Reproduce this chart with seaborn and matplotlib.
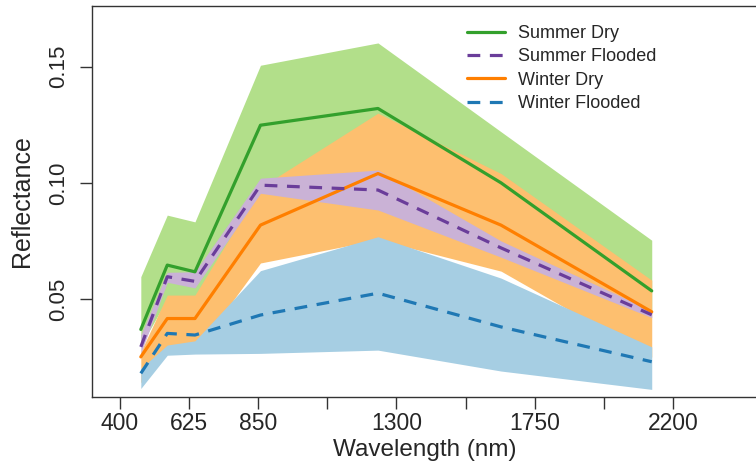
import matplotlib
matplotlib.use("Agg")
import matplotlib.pyplot as plt
from matplotlib.lines import Line2D
import pandas as pd
import seaborn as sns

# MODIS band centres (nm)
wavelength = [469, 555, 645, 858, 1240, 1640, 2130]

summer_dry = [0.0369, 0.0646, 0.0617, 0.1248, 0.1320, 0.1000, 0.0535]
summer_dry_hi = [0.0596, 0.0861, 0.0832, 0.1506, 0.1602, 0.1220, 0.0753]
summer_dry_lo = [0.0300, 0.0500, 0.0500, 0.0900, 0.1000, 0.0800, 0.0450]

summer_fl = [0.0294, 0.0596, 0.0576, 0.0990, 0.0969, 0.0720, 0.0432]
summer_fl_hi = [0.0345, 0.0615, 0.0617, 0.1020, 0.1055, 0.0750, 0.0450]
summer_fl_lo = [0.0267, 0.0572, 0.0548, 0.0955, 0.0883, 0.0680, 0.0420]

winter_dry = [0.0251, 0.0416, 0.0416, 0.0818, 0.1040, 0.0818, 0.0445]
winter_dry_hi = [0.0273, 0.0517, 0.0517, 0.0980, 0.1300, 0.1040, 0.0581]
winter_dry_lo = [0.0140, 0.0280, 0.0270, 0.0655, 0.0755, 0.0620, 0.0250]

winter_fl = [0.0180, 0.0352, 0.0345, 0.0431, 0.0525, 0.0380, 0.0230]
winter_fl_hi = [0.0201, 0.0302, 0.0320, 0.0622, 0.0768, 0.0590, 0.0294]
winter_fl_lo = [0.0115, 0.0258, 0.0263, 0.0266, 0.0280, 0.0190, 0.0111]

labels = ["Summer Dry", "Summer Flooded", "Winter Dry", "Winter Flooded"]
line_cols = ["#33a02c", "#6a3d9a", "#ff7f00", "#1f78b4"]
fill_cols = ["#b2df8a", "#cab2d6", "#fdbf6f", "#a6cee3"]

xticks = [400, 625, 850, 1075, 1300, 1525, 1750, 1975, 2200]
xticklabels = ["400", "625", "850", "", "1300", "", "1750", "", "2200"]
yticks = [0.05, 0.10, 0.15]

sns.set_style("ticks")
plt.rcParams["font.family"] = ["Liberation Sans", "DejaVu Sans"]

df = pd.DataFrame({
    "wavelength": wavelength,
    "Summer Dry": summer_dry,
    "Summer Flooded": summer_fl,
    "Winter Dry": winter_dry,
    "Winter Flooded": winter_fl,
})

fig = plt.figure(figsize=(7.56, 4.62), dpi=100)
ax = fig.add_axes([92 / 756, 65 / 462, (780 - 92) / 756, (397 - 6) / 462])

# bands, drawn in this order so the overlaps look right
ax.fill_between(wavelength, summer_dry_lo, summer_dry_hi, color=fill_cols[0], lw=0)
ax.fill_between(wavelength, winter_dry_lo, winter_dry_hi, color=fill_cols[2], lw=0)
ax.fill_between(wavelength, summer_fl_lo, summer_fl_hi, color=fill_cols[1], lw=0)
ax.fill_between(wavelength, winter_fl_lo, winter_fl_hi, color=fill_cols[3], lw=0)

dashed = {"Summer Flooded", "Winter Flooded"}
for name in ["Summer Dry", "Winter Dry", "Summer Flooded", "Winter Flooded"]:
    col = line_cols[labels.index(name)]
    sns.lineplot(data=df, x="wavelength", y=name, color=col, lw=2.3, ax=ax, legend=False)
    if name in dashed:
        ax.lines[-1].set_dashes([4, 3])

ax.set_xlim(310.3, 2547)
ax.set_ylim(0.00783, 0.1761)
ax.set_xticks(xticks)
ax.set_xticklabels(xticklabels, fontsize=16.5)
ax.set_yticks(yticks)
ax.set_yticklabels(["0.05", "0.10", "0.15"], fontsize=16, rotation=90, va="center")
ax.tick_params(axis="both", direction="out", length=8.6, width=1, color="#333333")
ax.tick_params(axis="x", pad=2.5)
ax.tick_params(axis="y", pad=8)
for sp in ax.spines.values():
    sp.set_color("#333333")
    sp.set_linewidth(1)

ax.set_xlabel("Wavelength (nm)", fontsize=17.5, va="bottom")
ax.set_ylabel("Reflectance", fontsize=18)
ax.xaxis.set_label_coords((425 - 92) / (780 - 92), -0.163)
ax.yaxis.set_label_coords(-0.085, 0.5)

handles = [Line2D([], [], color=c, lw=2.3) for c in line_cols]
handles[1].set_dashes([4, 3])
handles[3].set_dashes([4, 3])
fig.legend(handles, labels, loc="upper left", bbox_to_anchor=(467 / 756, 1 - 25 / 462),
           frameon=False, fontsize=13, handlelength=2.1, handletextpad=0.7,
           labelspacing=0.35, borderpad=0, borderaxespad=0)

fig.savefig("out.png", dpi=100)
